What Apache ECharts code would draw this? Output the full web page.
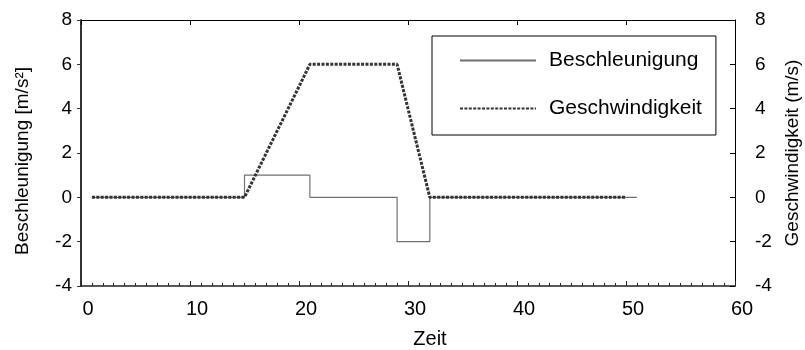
<!DOCTYPE html>
<html>
<head>
<meta charset="utf-8">
<script src="https://cdn.jsdelivr.net/npm/echarts@6/dist/echarts.min.js"></script>
<style>
  html, body { margin: 0; padding: 0; background: #fff; }
  #chart { width: 805px; height: 350px; }
</style>
</head>
<body>
<div id="chart"></div>
<script>
// Acceleration profile: times where the value changes, and the value held from then on
const accelTime = [1, 15, 21, 29, 32, 51];
const accelValue = [0, 1, 0, -2, 0, 0];

// Velocity profile: corner points of the trapezoid
const velTime = [1, 15, 21, 29, 32, 50];
const velValue = [0, 0, 6, 6, 0, 0];

const xTicks = [0, 10, 20, 30, 40, 50, 60];
const yTicks = [-4, -2, 0, 2, 4, 6, 8];

const seriesNames = ['Beschleunigung', 'Geschwindigkeit'];
const xName = 'Zeit';
const yLeftName = 'Beschleunigung [m/s²]';
const yRightName = 'Geschwindigkeit (m/s)';

const FONT = 'Liberation Sans, Arial, sans-serif';

const zip = (xs, ys) => xs.map((x, i) => [x, ys[i]]);

const chart = echarts.init(document.getElementById('chart'), null, { renderer: 'canvas' });

const yBase = {
  type: 'value',
  min: yTicks[0],
  max: yTicks[yTicks.length - 1],
  interval: 2,
  splitLine: { show: false },
  nameLocation: 'middle',
  nameRotate: 90,
  axisLabel: { fontFamily: FONT, fontSize: 19, color: '#000' }
};

chart.setOption({
  animation: false,
  backgroundColor: '#fff',
  grid: { left: 81, right: 70, top: 20, bottom: 64, containLabel: false, outerBoundsMode: 'none' },
  legend: {
    orient: 'vertical',
    left: 432,
    top: 36,
    data: seriesNames,
    borderColor: '#000',
    borderWidth: 1,
    padding: [14, 14, 16, 27],
    itemWidth: 76,
    itemHeight: 20,
    itemGap: 27,
    itemStyle: { color: 'transparent', borderWidth: 0, opacity: 0 },
    textStyle: { fontFamily: FONT, fontSize: 21, color: '#000', padding: [0, 0, 0, 8] }
  },
  xAxis: [
    {
      type: 'value',
      position: 'bottom',
      min: xTicks[0],
      max: xTicks[xTicks.length - 1],
      interval: 10,
      name: xName,
      nameLocation: 'middle',
      nameGap: 43,
      nameTextStyle: { fontFamily: FONT, fontSize: 20, color: '#000', padding: [0, 0, 0, 44] },
      axisLine: { onZero: false, lineStyle: { color: '#222', width: 1.5 } },
      axisTick: { inside: true, length: 5, lineStyle: { color: '#222', width: 1 } },
      minorTick: { show: true, splitNumber: 10, length: 3, lineStyle: { color: '#222', width: 1 } },
      splitLine: { show: false },
      axisLabel: { fontFamily: FONT, fontSize: 20, color: '#000', margin: 13, padding: [0, 0, 0, 14] }
    },
    {
      type: 'value',
      position: 'top',
      min: xTicks[0],
      max: xTicks[xTicks.length - 1],
      interval: 10,
      axisLine: { onZero: false, lineStyle: { color: '#000', width: 1 } },
      axisTick: { inside: true, length: 5, lineStyle: { color: '#000', width: 1 } },
      splitLine: { show: false },
      axisLabel: { show: false }
    }
  ],
  yAxis: [
    Object.assign({}, yBase, {
      position: 'left',
      name: yLeftName,
      nameGap: 49,
      nameTextStyle: { fontFamily: FONT, fontSize: 19, color: '#000', padding: [0, 16, 0, 0] },
      axisLine: { show: true, onZero: false, lineStyle: { color: '#333', width: 2 } },
      axisTick: { show: true, inside: false, length: 4, lineStyle: { color: '#333', width: 1 } },
      axisLabel: Object.assign({}, yBase.axisLabel, { margin: 9 })
    }),
    Object.assign({}, yBase, {
      position: 'right',
      name: yRightName,
      nameGap: 47,
      nameTextStyle: { fontFamily: FONT, fontSize: 19, color: '#000' },
      axisLine: { show: true, onZero: false, lineStyle: { color: '#000', width: 1 } },
      axisTick: { show: true, inside: true, length: 5, lineStyle: { color: '#000', width: 1 } },
      axisLabel: Object.assign({}, yBase.axisLabel, { margin: 20 })
    })
  ],
  series: [
    {
      name: seriesNames[0],
      type: 'line',
      xAxisIndex: 0,
      yAxisIndex: 0,
      step: 'end',
      symbol: 'none',
      data: zip(accelTime, accelValue),
      lineStyle: { color: '#707070', width: 1.2, type: 'solid' },
      itemStyle: { color: '#707070' },
      z: 2
    },
    {
      name: seriesNames[1],
      type: 'line',
      xAxisIndex: 0,
      yAxisIndex: 1,
      symbol: 'none',
      data: zip(velTime, velValue),
      lineStyle: { color: '#333', width: 3, type: [3, 1.4] },
      itemStyle: { color: '#333' },
      z: 3
    }
  ]
});
</script>
</body>
</html>
